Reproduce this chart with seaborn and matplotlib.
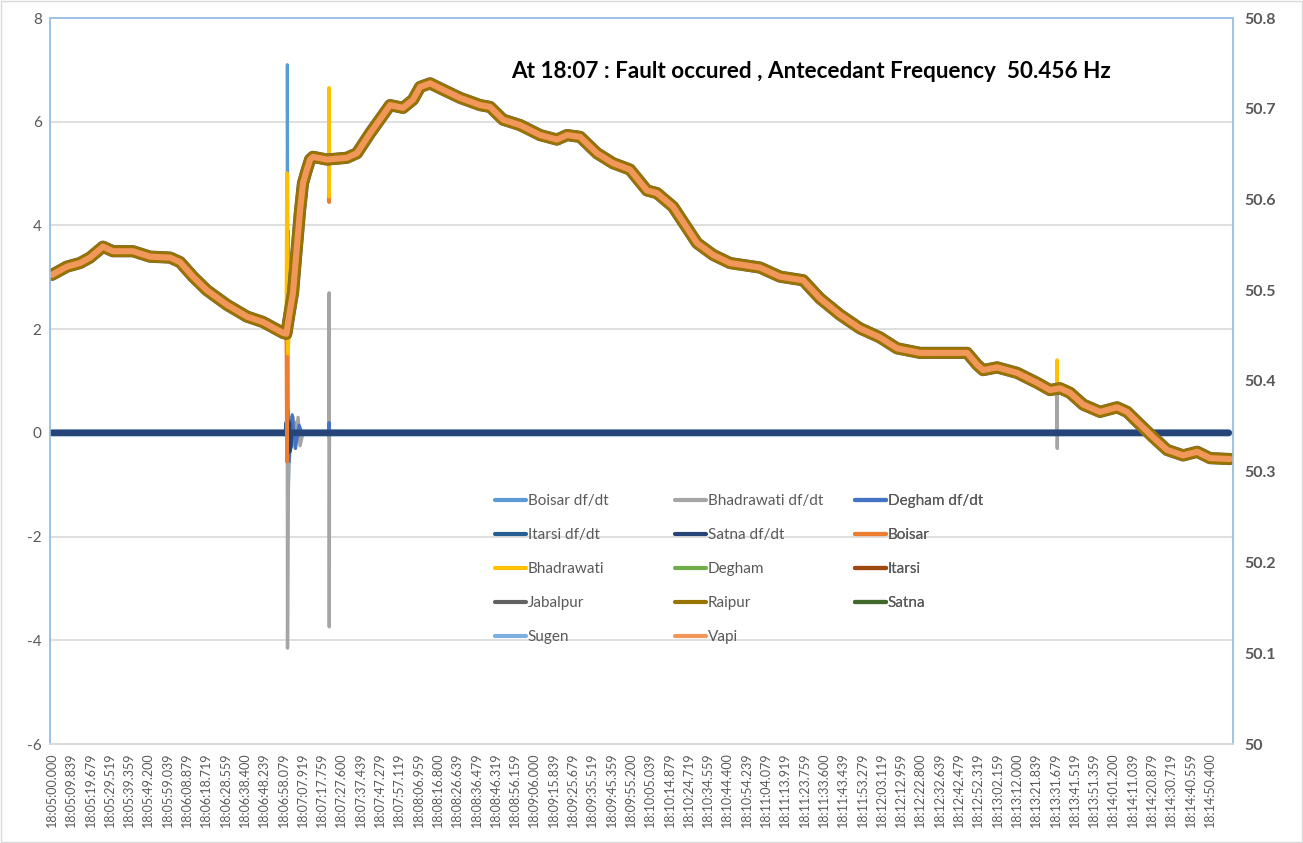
"""Recreate the frequency / df/dt excursion chart for the 18:07 grid fault."""

import matplotlib

matplotlib.use("Agg")
import matplotlib.pyplot as plt
import pandas as pd
import seaborn as sns
from matplotlib.patches import Rectangle


TICK_LABELS = [
    "18:05:00.000", "18:05:09.839", "18:05:19.679", "18:05:29.519", "18:05:39.359",
    "18:05:49.200", "18:05:59.039", "18:06:08.879", "18:06:18.719", "18:06:28.559",
    "18:06:38.400", "18:06:48.239", "18:06:58.079", "18:07:07.919", "18:07:17.759",
    "18:07:27.600", "18:07:37.439", "18:07:47.279", "18:07:57.119", "18:08:06.959",
    "18:08:16.800", "18:08:26.639", "18:08:36.479", "18:08:46.319", "18:08:56.159",
    "18:09:06.000", "18:09:15.839", "18:09:25.679", "18:09:35.519", "18:09:45.359",
    "18:09:55.200", "18:10:05.039", "18:10:14.879", "18:10:24.719", "18:10:34.559",
    "18:10:44.400", "18:10:54.239", "18:11:04.079", "18:11:13.919", "18:11:23.759",
    "18:11:33.600", "18:11:43.439", "18:11:53.279", "18:12:03.119", "18:12:12.959",
    "18:12:22.800", "18:12:32.639", "18:12:42.479", "18:12:52.319", "18:13:02.159",
    "18:13:12.000", "18:13:21.839", "18:13:31.679", "18:13:41.519", "18:13:51.359",
    "18:14:01.200", "18:14:11.039", "18:14:20.879", "18:14:30.719", "18:14:40.559",
    "18:14:50.400",
]

DFDT_TICKS = [-6, -4, -2, 0, 2, 4, 6, 8]
HZ_TICKS = [50.0, 50.1, 50.2, 50.3, 50.4, 50.5, 50.6, 50.7, 50.8]

# common frequency trace (seconds after 18:05:00, Hz)
TRACE_SECONDS = [
    0.0, 7.6, 14.3, 19.4, 26.0, 31.1, 41.3, 50.0, 60.2, 65.3, 71.9, 79.0, 89.2,
    99.4, 107.6, 117.8, 119.5, 121.4, 122.9, 124.9, 126.5, 128.0, 130.0, 131.6,
    133.1, 140.2, 150.4, 155.5, 162.2, 172.4, 179.0, 184.1, 187.7, 192.8, 199.4,
    208.1, 218.3, 223.4, 230.0, 238.7, 248.9, 257.5, 262.6, 269.3, 277.9, 286.1,
    294.7, 303.4, 308.5, 316.7, 328.9, 337.1, 345.7, 361.0, 371.2, 383.0, 391.6,
    401.8, 412.0, 422.2, 430.9, 442.6, 452.8, 466.6, 471.7, 474.8, 481.9, 492.1,
    502.3, 508.9, 514.0, 519.1, 525.8, 534.4, 543.1, 548.2, 554.8, 561.5, 568.6,
    576.8, 583.9, 590.5, 600.7,
]
TRACE_HZ = [
    50.517, 50.526, 50.530, 50.536, 50.548, 50.543, 50.543, 50.537, 50.536, 50.531,
    50.515, 50.500, 50.484, 50.471, 50.465, 50.453, 50.452, 50.478, 50.497, 50.548,
    50.588, 50.618, 50.633, 50.644, 50.647, 50.644, 50.646, 50.651, 50.673, 50.704,
    50.701, 50.710, 50.724, 50.728, 50.721, 50.712, 50.704, 50.702, 50.688, 50.682,
    50.671, 50.666, 50.671, 50.669, 50.651, 50.640, 50.633, 50.610, 50.607, 50.592,
    50.552, 50.539, 50.530, 50.525, 50.515, 50.511, 50.491, 50.473, 50.458, 50.448,
    50.436, 50.431, 50.431, 50.431, 50.418, 50.412, 50.415, 50.409, 50.398, 50.390,
    50.392, 50.387, 50.374, 50.366, 50.371, 50.366, 50.352, 50.338, 50.324, 50.318,
    50.322, 50.315, 50.314,
]

# extra points where single stations spike away from the common trace
BOISAR_SPIKE_SECONDS = [119.8, 120.2, 141.2, 141.3, 141.4]
BOISAR_SPIKE_HZ = [50.311, 50.566, 50.645, 50.597, 50.645]
BHADRAWATI_SPIKE_SECONDS = [119.8, 120.3, 141.2, 141.3, 141.35, 141.45, 512.4, 512.5, 512.6]
BHADRAWATI_SPIKE_HZ = [50.629, 50.430, 50.645, 50.723, 50.603, 50.645, 50.391, 50.423, 50.391]

# df/dt series (left axis, Hz/s)
BOISAR_DFDT_SECONDS = [0, 119.8, 120.0, 120.6, 121.5, 122.5, 124.0, 125.5, 127.0, 141.2, 141.3, 141.4, 141.5, 600]
BOISAR_DFDT = [0, 0, 7.1, -0.95, 0.3, -0.25, 0.2, -0.15, 0, 0, 0.25, -0.1, 0, 0]
BHADRAWATI_DFDT_SECONDS = [0, 119.7, 119.9, 120.1, 120.5, 121.0, 123.0, 124.0, 125.5, 126.5, 128.0,
                           141.2, 141.3, 141.4, 141.5, 512.4, 512.5, 512.6, 512.7, 600]
BHADRAWATI_DFDT = [0, 0, 4.5, -4.15, -1.3, 0, 0.3, -0.3, 0.3, -0.25, 0,
                   0, 2.7, -3.74, 0, 0, 0.8, -0.3, 0, 0]
DEGHAM_DFDT_SECONDS = [0, 119.9, 120.2, 121.0, 122.5, 124.2, 126.0, 127.5, 141.2, 141.3, 141.4, 600]
DEGHAM_DFDT = [0, 0, 0.45, -0.55, 0.35, -0.3, 0.15, 0, 0, 0.2, 0, 0]
ITARSI_DFDT_SECONDS = [0, 119.9, 120.3, 120.8, 121.5, 600]
ITARSI_DFDT = [0, 0, 0.2, -0.3, 0, 0]
SATNA_DFDT_SECONDS = [0, 119.9, 120.3, 120.8, 121.5, 600]
SATNA_DFDT = [0, 0, 0.17, -0.35, 0, 0]

DFDT_COLORS = {
    "Boisar df/dt": "#5B9BD5",
    "Bhadrawati df/dt": "#A5A5A5",
    "Degham df/dt": "#4472C4",
    "Itarsi df/dt": "#255E91",
    "Satna df/dt": "#264478",
}
HZ_COLORS = {
    "Boisar": "#ED7D31",
    "Bhadrawati": "#FFC000",
    "Degham": "#70AD47",
    "Itarsi": "#9E480E",
    "Jabalpur": "#636363",
    "Raipur": "#997300",
    "Satna": "#43682B",
    "Sugen": "#7CAFDD",
    "Vapi": "#F1975A",
}

TEXT_GREY = "#595959"


def trace_with_spikes(extra_seconds: list[float], extra_hz: list[float]) -> pd.DataFrame:
    """Merge station-specific spike points into the common frequency trace."""
    frame = pd.DataFrame(
        {"seconds": TRACE_SECONDS + extra_seconds, "hz": TRACE_HZ + extra_hz}
    )
    return frame.sort_values("seconds").reset_index(drop=True)


sns.set_theme(style="white")
plt.rcParams["font.family"] = ["Lato", "DejaVu Sans"]
plt.rcParams["axes.unicode_minus"] = False

fig = plt.figure(figsize=(13.03, 8.43), dpi=100)
ax = fig.add_axes([50 / 1303, 99 / 843, 1183 / 1303, 726 / 843])
ax2 = ax.twinx()

# df/dt on the primary axis: spikes under the flat zero band
dfdt_series = [
    ("Boisar df/dt", BOISAR_DFDT_SECONDS, BOISAR_DFDT, 2.2, 2),
    ("Bhadrawati df/dt", BHADRAWATI_DFDT_SECONDS, BHADRAWATI_DFDT, 2.4, 2),
    ("Degham df/dt", DEGHAM_DFDT_SECONDS, DEGHAM_DFDT, 2.2, 2),
    ("Itarsi df/dt", ITARSI_DFDT_SECONDS, ITARSI_DFDT, 5.0, 3),
    ("Satna df/dt", SATNA_DFDT_SECONDS, SATNA_DFDT, 4.2, 3),
]
for name, seconds, values, width, order in dfdt_series:
    sns.lineplot(
        x=seconds, y=values, ax=ax, color=DFDT_COLORS[name], linewidth=width,
        estimator=None, sort=False, label=name, legend=False, zorder=order,
    )

# station frequencies on the secondary axis
plain = trace_with_spikes([], [])
hz_series = [
    ("Boisar", trace_with_spikes(BOISAR_SPIKE_SECONDS, BOISAR_SPIKE_HZ), 2.6),
    ("Bhadrawati", trace_with_spikes(BHADRAWATI_SPIKE_SECONDS, BHADRAWATI_SPIKE_HZ), 2.6),
    ("Degham", plain, 2.6),
    ("Itarsi", plain, 2.6),
    ("Jabalpur", plain, 8.8),
    ("Raipur", plain, 8.4),
    ("Satna", plain, 2.6),
    ("Sugen", plain, 2.6),
    ("Vapi", plain, 4.4),
]
for name, frame, width in hz_series:
    sns.lineplot(
        data=frame, x="seconds", y="hz", ax=ax2, color=HZ_COLORS[name], linewidth=width,
        estimator=None, sort=False, label=name, legend=False,
    )

ax.set_xlim(-1.0, 602.2)
ax.set_ylim(-6, 8)
ax2.set_ylim(50, 50.8)

tick_seconds = (
    pd.to_datetime(TICK_LABELS, format="%H:%M:%S.%f")
    - pd.to_datetime(TICK_LABELS[0], format="%H:%M:%S.%f")
).total_seconds()
ax.set_xticks(tick_seconds)
ax.set_xticklabels(TICK_LABELS, rotation=90, fontsize=9, color=TEXT_GREY)
ax.set_yticks(DFDT_TICKS)
ax.set_yticklabels([str(v) for v in DFDT_TICKS], fontsize=11, color=TEXT_GREY)
ax2.set_yticks(HZ_TICKS)
ax2.set_yticklabels([f"{v:g}" for v in HZ_TICKS], fontsize=11.5, color=TEXT_GREY, fontweight="bold")
ax.tick_params(axis="both", length=0, pad=6)
ax2.tick_params(axis="y", length=0, pad=8)
ax.set_xlabel("")
ax.set_ylabel("")
ax2.set_ylabel("")

ax.grid(axis="y", color="#D9D9D9", linewidth=1.2)
ax.grid(axis="x", visible=False)
ax2.grid(False)
for axis in (ax, ax2):
    for side in ("left", "right", "top"):
        axis.spines[side].set_color("#9DC3E6")
        axis.spines[side].set_linewidth(1.2)
    axis.spines["bottom"].set_color("#D9D9D9")

ax2.text(
    0.39, 0.926, "At 18:07 : Fault occured , Antecedant Frequency  50.456 Hz",
    transform=ax2.transAxes, fontsize=16.2, fontweight="bold", color="black",
    ha="left", va="center",
)

# legend laid out row by row like the source, one column per legend
handles, labels = ax.get_legend_handles_labels()
handles2, labels2 = ax2.get_legend_handles_labels()
handles += handles2
labels += labels2
for col, x_pos in enumerate([0.3762, 0.5283, 0.6805]):
    idx = list(range(col, len(handles), 3))
    leg = ax2.legend(
        [handles[i] for i in idx], [labels[i] for i in idx],
        loc="upper left", bbox_to_anchor=(x_pos, 0.344), frameon=False,
        fontsize=11, labelcolor=TEXT_GREY, handlelength=2.0, handletextpad=0.15,
        labelspacing=1.31, borderpad=0, borderaxespad=0,
    )
    for line in leg.get_lines():
        line.set_linewidth(3)
    ax2.add_artist(leg)

fig.patches.append(
    Rectangle((0.001, 0.001), 0.998, 0.998, transform=fig.transFigure,
              fill=False, edgecolor="#D9D9D9", linewidth=1)
)

fig.savefig("out.png", dpi=100)
plt.close(fig)
